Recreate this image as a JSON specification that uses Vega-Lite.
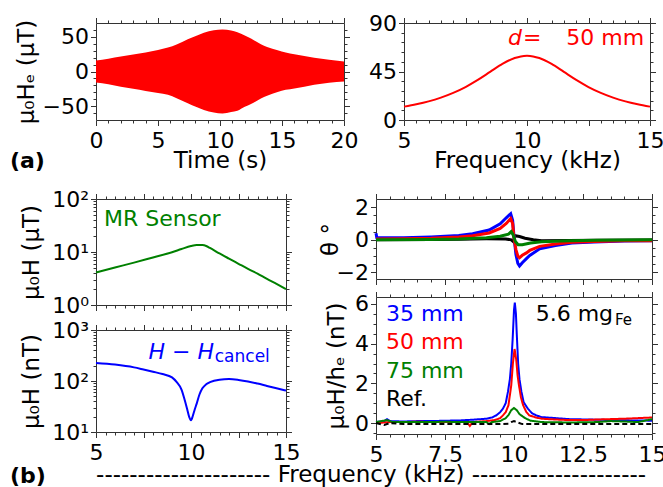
{
  "$schema": "https://vega.github.io/schema/vega-lite/v6.json",
  "padding": {"left": 9, "top": 11, "right": 0, "bottom": 0},
  "background": "white",
  "config": {
    "font": "DejaVu Sans",
    "view": {"stroke": "#333", "strokeWidth": 1},
    "axis": {"labelFont": "DejaVu Sans", "titleFont": "DejaVu Sans", "labelFontSize": 22, "titleFontSize": 23, "titleFontWeight": "normal", "labelColor": "#000", "titleColor": "#000", "grid": false, "domain": false, "tickColor": "#333", "tickWidth": 1, "tickSize": 5.5, "labelFlush": false, "labelOverlap": false, "labelBound": false},
    "axisX": {"labelPadding": 5},
    "axisY": {"labelPadding": 2},
    "text": {"font": "DejaVu Sans", "fontSize": 22}
  },
  "datasets": {
    "env": [
      {"t": 0, "hi": 16, "lo": -15.9}, {"t": 1, "hi": 18.5, "lo": -18.5}, {"t": 2, "hi": 21.5, "lo": -22}, {"t": 3, "hi": 24.5, "lo": -25}, {"t": 4, "hi": 27.5, "lo": -28}, {"t": 5, "hi": 31, "lo": -31}, {"t": 5.8, "hi": 34.6, "lo": -33.7}, {"t": 6.5, "hi": 39, "lo": -38.5}, {"t": 7.4, "hi": 46.6, "lo": -45.7}, {"t": 8, "hi": 51, "lo": -50.5}, {"t": 8.7, "hi": 56, "lo": -55.5}, {"t": 9.5, "hi": 59.5, "lo": -59.3}, {"t": 10.2, "hi": 60.5, "lo": -60.6}, {"t": 10.9, "hi": 59, "lo": -58.5}, {"t": 11.4, "hi": 56.5, "lo": -56.7}, {"t": 12, "hi": 52, "lo": -51}, {"t": 12.5, "hi": 47.5, "lo": -47}, {"t": 13.3, "hi": 39.4, "lo": -39}, {"t": 13.8, "hi": 35.5, "lo": -35}, {"t": 14.65, "hi": 30.8, "lo": -29.5}, {"t": 15.3, "hi": 27.5, "lo": -26.5}, {"t": 16, "hi": 25, "lo": -24.5}, {"t": 17.6, "hi": 20, "lo": -19}, {"t": 20, "hi": 14.4, "lo": -14.4}
    ],
    "resp": [
      {"f": 5, "v": 12.4}, {"f": 5.5, "v": 14.6}, {"f": 6, "v": 17.3}, {"f": 6.5, "v": 20.8}, {"f": 7, "v": 25.2}, {"f": 7.5, "v": 30.6}, {"f": 8, "v": 37.2}, {"f": 8.5, "v": 44.6}, {"f": 9, "v": 52.0}, {"f": 9.5, "v": 57.5}, {"f": 9.75, "v": 59}, {"f": 10, "v": 59.5}, {"f": 10.25, "v": 59}, {"f": 10.5, "v": 57.5}, {"f": 11, "v": 52.0}, {"f": 11.5, "v": 44.6}, {"f": 12, "v": 37.2}, {"f": 12.5, "v": 30.6}, {"f": 13, "v": 25.2}, {"f": 13.5, "v": 20.8}, {"f": 14, "v": 17.3}, {"f": 14.5, "v": 14.6}, {"f": 15, "v": 12.4}
    ],
    "mr": [
      {"f": 5, "v": 4.1}, {"f": 6, "v": 5.1}, {"f": 7, "v": 6.3}, {"f": 8, "v": 7.9}, {"f": 9, "v": 9.9}, {"f": 9.5, "v": 11.4}, {"f": 10, "v": 13.0}, {"f": 10.3, "v": 13.6}, {"f": 10.6, "v": 13.5}, {"f": 10.8, "v": 13.0}, {"f": 11, "v": 11.9}, {"f": 11.5, "v": 9.4}, {"f": 12, "v": 7.5}, {"f": 12.5, "v": 6.0}, {"f": 13, "v": 4.8}, {"f": 13.5, "v": 3.9}, {"f": 14, "v": 3.1}, {"f": 14.5, "v": 2.5}, {"f": 15, "v": 2.0}
    ],
    "canc": [
      {"f": 5, "v": 226}, {"f": 6, "v": 210}, {"f": 7, "v": 185}, {"f": 7.5, "v": 168}, {"f": 8, "v": 152}, {"f": 8.5, "v": 137}, {"f": 9, "v": 118}, {"f": 9.25, "v": 95}, {"f": 9.5, "v": 68}, {"f": 9.65, "v": 45}, {"f": 9.8, "v": 28}, {"f": 9.9, "v": 20}, {"f": 10.0, "v": 17}, {"f": 10.1, "v": 21}, {"f": 10.2, "v": 28}, {"f": 10.3, "v": 36}, {"f": 10.45, "v": 55}, {"f": 10.6, "v": 72}, {"f": 10.8, "v": 86}, {"f": 11, "v": 95}, {"f": 11.5, "v": 106}, {"f": 12, "v": 109}, {"f": 12.5, "v": 105}, {"f": 13, "v": 98}, {"f": 13.5, "v": 89}, {"f": 14, "v": 80}, {"f": 14.5, "v": 72}, {"f": 15, "v": 65}
    ],
    "theta": [
      {"s": "Ref.", "f": 5, "v": 0.0}, {"s": "Ref.", "f": 7, "v": 0.02}, {"s": "Ref.", "f": 8, "v": 0.04}, {"s": "Ref.", "f": 9, "v": 0.06}, {"s": "Ref.", "f": 9.7, "v": 0.05}, {"s": "Ref.", "f": 9.9, "v": 0.0}, {"s": "Ref.", "f": 9.97, "v": -0.1}, {"s": "Ref.", "f": 10.05, "v": 0.25}, {"s": "Ref.", "f": 10.2, "v": 0.2}, {"s": "Ref.", "f": 10.4, "v": 0.1}, {"s": "Ref.", "f": 10.7, "v": 0.0}, {"s": "Ref.", "f": 11, "v": -0.05}, {"s": "Ref.", "f": 12, "v": -0.04}, {"s": "Ref.", "f": 13, "v": -0.03}, {"s": "Ref.", "f": 15, "v": -0.01},
      {"s": "35 mm", "f": 5.0, "v": 0.4}, {"s": "35 mm", "f": 5.03, "v": 0.12}, {"s": "35 mm", "f": 6, "v": 0.12}, {"s": "35 mm", "f": 7, "v": 0.18}, {"s": "35 mm", "f": 8, "v": 0.27}, {"s": "35 mm", "f": 8.5, "v": 0.37}, {"s": "35 mm", "f": 9.1, "v": 0.6}, {"s": "35 mm", "f": 9.5, "v": 0.98}, {"s": "35 mm", "f": 9.72, "v": 1.35}, {"s": "35 mm", "f": 9.88, "v": 1.6}, {"s": "35 mm", "f": 9.95, "v": 1.2}, {"s": "35 mm", "f": 10.0, "v": 0.2}, {"s": "35 mm", "f": 10.07, "v": -0.9}, {"s": "35 mm", "f": 10.14, "v": -1.45}, {"s": "35 mm", "f": 10.2, "v": -1.6}, {"s": "35 mm", "f": 10.3, "v": -1.4}, {"s": "35 mm", "f": 10.45, "v": -1.15}, {"s": "35 mm", "f": 10.57, "v": -0.96}, {"s": "35 mm", "f": 10.93, "v": -0.55}, {"s": "35 mm", "f": 11.5, "v": -0.35}, {"s": "35 mm", "f": 12.1, "v": -0.2}, {"s": "35 mm", "f": 12.9, "v": -0.14}, {"s": "35 mm", "f": 14, "v": -0.08}, {"s": "35 mm", "f": 15, "v": -0.05},
      {"s": "50 mm", "f": 5, "v": 0.05}, {"s": "50 mm", "f": 6, "v": 0.07}, {"s": "50 mm", "f": 7, "v": 0.1}, {"s": "50 mm", "f": 8, "v": 0.18}, {"s": "50 mm", "f": 8.5, "v": 0.25}, {"s": "50 mm", "f": 9.1, "v": 0.42}, {"s": "50 mm", "f": 9.5, "v": 0.7}, {"s": "50 mm", "f": 9.72, "v": 1.0}, {"s": "50 mm", "f": 9.88, "v": 1.3}, {"s": "50 mm", "f": 9.95, "v": 1.0}, {"s": "50 mm", "f": 10.0, "v": 0.1}, {"s": "50 mm", "f": 10.07, "v": -0.6}, {"s": "50 mm", "f": 10.14, "v": -1.0}, {"s": "50 mm", "f": 10.2, "v": -1.1}, {"s": "50 mm", "f": 10.3, "v": -0.95}, {"s": "50 mm", "f": 10.45, "v": -0.8}, {"s": "50 mm", "f": 10.57, "v": -0.65}, {"s": "50 mm", "f": 10.93, "v": -0.4}, {"s": "50 mm", "f": 11.5, "v": -0.25}, {"s": "50 mm", "f": 12.1, "v": -0.15}, {"s": "50 mm", "f": 12.9, "v": -0.1}, {"s": "50 mm", "f": 14, "v": -0.06}, {"s": "50 mm", "f": 15, "v": -0.05},
      {"s": "75 mm", "f": 5, "v": 0.0}, {"s": "75 mm", "f": 7, "v": 0.02}, {"s": "75 mm", "f": 8, "v": 0.05}, {"s": "75 mm", "f": 9, "v": 0.12}, {"s": "75 mm", "f": 9.5, "v": 0.22}, {"s": "75 mm", "f": 9.8, "v": 0.35}, {"s": "75 mm", "f": 9.9, "v": 0.5}, {"s": "75 mm", "f": 9.97, "v": 0.3}, {"s": "75 mm", "f": 10.05, "v": -0.1}, {"s": "75 mm", "f": 10.15, "v": -0.3}, {"s": "75 mm", "f": 10.3, "v": -0.3}, {"s": "75 mm", "f": 10.6, "v": -0.2}, {"s": "75 mm", "f": 11, "v": -0.12}, {"s": "75 mm", "f": 12, "v": -0.05}, {"s": "75 mm", "f": 13, "v": -0.03}, {"s": "75 mm", "f": 15, "v": 0.0}
    ],
    "sig": [
      {"s": "35 mm", "f": 5.0, "v": 0.05}, {"s": "35 mm", "f": 5.3, "v": 0.1}, {"s": "35 mm", "f": 5.4, "v": 0.2}, {"s": "35 mm", "f": 5.5, "v": 0.1}, {"s": "35 mm", "f": 6, "v": 0.08}, {"s": "35 mm", "f": 6.5, "v": 0.1}, {"s": "35 mm", "f": 7, "v": 0.1}, {"s": "35 mm", "f": 7.5, "v": 0.12}, {"s": "35 mm", "f": 8, "v": 0.13}, {"s": "35 mm", "f": 8.5, "v": 0.17}, {"s": "35 mm", "f": 9.0, "v": 0.22}, {"s": "35 mm", "f": 9.2, "v": 0.28}, {"s": "35 mm", "f": 9.36, "v": 0.39}, {"s": "35 mm", "f": 9.5, "v": 0.55}, {"s": "35 mm", "f": 9.6, "v": 0.73}, {"s": "35 mm", "f": 9.7, "v": 1.0}, {"s": "35 mm", "f": 9.78, "v": 1.57}, {"s": "35 mm", "f": 9.85, "v": 2.2}, {"s": "35 mm", "f": 9.9, "v": 3.0}, {"s": "35 mm", "f": 9.95, "v": 4.2}, {"s": "35 mm", "f": 10.0, "v": 5.7}, {"s": "35 mm", "f": 10.03, "v": 6.07}, {"s": "35 mm", "f": 10.07, "v": 5.5}, {"s": "35 mm", "f": 10.1, "v": 4.5}, {"s": "35 mm", "f": 10.15, "v": 3.0}, {"s": "35 mm", "f": 10.2, "v": 2.2}, {"s": "35 mm", "f": 10.27, "v": 1.57}, {"s": "35 mm", "f": 10.35, "v": 1.05}, {"s": "35 mm", "f": 10.5, "v": 0.73}, {"s": "35 mm", "f": 10.65, "v": 0.5}, {"s": "35 mm", "f": 10.8, "v": 0.39}, {"s": "35 mm", "f": 11, "v": 0.3}, {"s": "35 mm", "f": 11.5, "v": 0.25}, {"s": "35 mm", "f": 12, "v": 0.2}, {"s": "35 mm", "f": 13, "v": 0.17}, {"s": "35 mm", "f": 14, "v": 0.14}, {"s": "35 mm", "f": 15, "v": 0.12},
      {"s": "50 mm", "f": 5, "v": 0.0}, {"s": "50 mm", "f": 5.5, "v": 0.05}, {"s": "50 mm", "f": 6, "v": 0.05}, {"s": "50 mm", "f": 6.5, "v": 0.07}, {"s": "50 mm", "f": 7, "v": 0.05}, {"s": "50 mm", "f": 7.5, "v": 0.05}, {"s": "50 mm", "f": 8, "v": 0.05}, {"s": "50 mm", "f": 8.3, "v": 0.05}, {"s": "50 mm", "f": 8.4, "v": -0.15}, {"s": "50 mm", "f": 8.5, "v": 0.05}, {"s": "50 mm", "f": 9, "v": 0.1}, {"s": "50 mm", "f": 9.3, "v": 0.15}, {"s": "50 mm", "f": 9.5, "v": 0.25}, {"s": "50 mm", "f": 9.6, "v": 0.39}, {"s": "50 mm", "f": 9.7, "v": 0.55}, {"s": "50 mm", "f": 9.8, "v": 0.9}, {"s": "50 mm", "f": 9.9, "v": 1.9}, {"s": "50 mm", "f": 9.96, "v": 3.0}, {"s": "50 mm", "f": 10.02, "v": 3.73}, {"s": "50 mm", "f": 10.08, "v": 3.2}, {"s": "50 mm", "f": 10.13, "v": 2.4}, {"s": "50 mm", "f": 10.18, "v": 1.9}, {"s": "50 mm", "f": 10.25, "v": 1.3}, {"s": "50 mm", "f": 10.33, "v": 0.9}, {"s": "50 mm", "f": 10.45, "v": 0.55}, {"s": "50 mm", "f": 10.55, "v": 0.39}, {"s": "50 mm", "f": 10.8, "v": 0.28}, {"s": "50 mm", "f": 11, "v": 0.22}, {"s": "50 mm", "f": 11.5, "v": 0.18}, {"s": "50 mm", "f": 12, "v": 0.15}, {"s": "50 mm", "f": 12.5, "v": 0.15}, {"s": "50 mm", "f": 13, "v": 0.18}, {"s": "50 mm", "f": 13.5, "v": 0.2}, {"s": "50 mm", "f": 14, "v": 0.22}, {"s": "50 mm", "f": 14.5, "v": 0.25}, {"s": "50 mm", "f": 15, "v": 0.28},
      {"s": "75 mm", "f": 5, "v": 0.05}, {"s": "75 mm", "f": 5.4, "v": 0.15}, {"s": "75 mm", "f": 5.6, "v": 0.05}, {"s": "75 mm", "f": 6, "v": 0.05}, {"s": "75 mm", "f": 6.5, "v": 0.06}, {"s": "75 mm", "f": 7, "v": 0.05}, {"s": "75 mm", "f": 7.5, "v": 0.07}, {"s": "75 mm", "f": 8, "v": 0.05}, {"s": "75 mm", "f": 8.5, "v": 0.05}, {"s": "75 mm", "f": 9, "v": 0.05}, {"s": "75 mm", "f": 9.1, "v": -0.05}, {"s": "75 mm", "f": 9.2, "v": 0.05}, {"s": "75 mm", "f": 9.5, "v": 0.1}, {"s": "75 mm", "f": 9.7, "v": 0.25}, {"s": "75 mm", "f": 9.8, "v": 0.4}, {"s": "75 mm", "f": 9.9, "v": 0.65}, {"s": "75 mm", "f": 10.0, "v": 0.76}, {"s": "75 mm", "f": 10.1, "v": 0.65}, {"s": "75 mm", "f": 10.2, "v": 0.45}, {"s": "75 mm", "f": 10.3, "v": 0.35}, {"s": "75 mm", "f": 10.4, "v": 0.25}, {"s": "75 mm", "f": 10.6, "v": 0.12}, {"s": "75 mm", "f": 11, "v": 0.05}, {"s": "75 mm", "f": 12, "v": 0.03}, {"s": "75 mm", "f": 13, "v": 0.05}, {"s": "75 mm", "f": 13.5, "v": 0.1}, {"s": "75 mm", "f": 14, "v": 0.08}, {"s": "75 mm", "f": 14.5, "v": 0.05}, {"s": "75 mm", "f": 15, "v": 0.2},
      {"s": "Ref.", "f": 5, "v": 0.0}, {"s": "Ref.", "f": 5.3, "v": -0.1}, {"s": "Ref.", "f": 5.5, "v": 0.0}, {"s": "Ref.", "f": 6, "v": -0.05}, {"s": "Ref.", "f": 7, "v": -0.05}, {"s": "Ref.", "f": 8, "v": -0.05}, {"s": "Ref.", "f": 9, "v": -0.05}, {"s": "Ref.", "f": 9.5, "v": -0.05}, {"s": "Ref.", "f": 9.8, "v": -0.03}, {"s": "Ref.", "f": 9.9, "v": 0.05}, {"s": "Ref.", "f": 10.0, "v": 0.1}, {"s": "Ref.", "f": 10.1, "v": 0.05}, {"s": "Ref.", "f": 10.3, "v": -0.05}, {"s": "Ref.", "f": 11, "v": -0.05}, {"s": "Ref.", "f": 12, "v": -0.05}, {"s": "Ref.", "f": 13, "v": -0.05}, {"s": "Ref.", "f": 14, "v": -0.05}, {"s": "Ref.", "f": 15, "v": -0.05}
    ]
  },
  "spacing": 14,
  "vconcat": [
    {
      "bounds": "flush",
      "spacing": 60,
      "hconcat": [
        {
          "width": 248, "height": 97,
          "resolve": {"axis": {"x": "independent", "y": "independent"}},
          "layer": [
            {"data": {"name": "env"}, "mark": {"type": "area", "color": "#ff0000", "interpolate": "monotone"},
             "encoding": {
               "x": {"field": "t", "type": "quantitative", "scale": {"domain": [0, 20], "nice": false, "zero": false}, "axis": {"orient": "bottom", "title": "Time (s)", "values": [0, 5, 10, 15, 20], "titlePadding": -2}},
               "y": {"field": "hi", "type": "quantitative", "scale": {"domain": [-70, 70], "nice": false, "zero": false}, "axis": {"orient": "left", "title": "μ₀Hₑ (μT)", "values": [-50, 0, 50], "titleX": -58, "labelExpr": "datum.value < 0 ? '−' + abs(datum.value) : '' + datum.value"}},
               "y2": {"field": "lo"}}},
            {"data": {"name": "env"}, "mark": {"type": "point", "opacity": 0},
             "encoding": {
               "x": {"field": "t", "type": "quantitative", "scale": {"domain": [0, 20], "nice": false, "zero": false}, "axis": {"orient": "top", "title": null, "labels": false, "values": [0, 5, 10, 15, 20]}},
               "y": {"field": "hi", "type": "quantitative", "scale": {"domain": [-70, 70], "nice": false, "zero": false}, "axis": {"orient": "right", "title": null, "labels": false, "values": [-50, 0, 50]}}}},
            {"data": {"name": "env"}, "mark": {"type": "point", "opacity": 0},
             "encoding": {
               "x": {"field": "t", "type": "quantitative", "scale": {"domain": [0, 20], "nice": false, "zero": false}, "axis": {"orient": "bottom", "title": null, "labels": false, "tickSize": 3, "values": [1, 2, 3, 4, 6, 7, 8, 9, 11, 12, 13, 14, 16, 17, 18, 19]}},
               "y": {"field": "hi", "type": "quantitative", "scale": {"domain": [-70, 70], "nice": false, "zero": false}, "axis": {"orient": "left", "title": null, "labels": false, "tickSize": 3, "values": [-60, -40, -30, -20, -10, 10, 20, 30, 40, 60]}}}},
            {"data": {"name": "env"}, "mark": {"type": "point", "opacity": 0},
             "encoding": {
               "x": {"field": "t", "type": "quantitative", "scale": {"domain": [0, 20], "nice": false, "zero": false}, "axis": {"orient": "top", "title": null, "labels": false, "tickSize": 3, "values": [1, 2, 3, 4, 6, 7, 8, 9, 11, 12, 13, 14, 16, 17, 18, 19]}},
               "y": {"field": "hi", "type": "quantitative", "scale": {"domain": [-70, 70], "nice": false, "zero": false}, "axis": {"orient": "right", "title": null, "labels": false, "tickSize": 3, "values": [-60, -40, -30, -20, -10, 10, 20, 30, 40, 60]}}}},
            {"data": {"values": [{}]}, "mark": {"type": "text", "text": "(a)", "align": "left", "baseline": "middle", "fontSize": 22, "fontWeight": "bold", "color": "#000"},
             "encoding": {
               "x": {"datum": -6.94, "type": "quantitative", "scale": {"domain": [0, 20], "nice": false, "zero": false}, "axis": null},
               "y": {"datum": -129, "type": "quantitative", "scale": {"domain": [-70, 70], "nice": false, "zero": false}, "axis": null}}}
          ]
        },
        {
          "width": 246, "height": 97,
          "resolve": {"axis": {"x": "independent", "y": "independent"}},
          "layer": [
            {"data": {"name": "resp"}, "mark": {"type": "line", "color": "#ff0000", "strokeWidth": 2, "interpolate": "monotone"},
             "encoding": {
               "x": {"field": "f", "type": "quantitative", "scale": {"domain": [5, 15], "nice": false, "zero": false}, "axis": {"orient": "bottom", "title": "Frequency (kHz)", "values": [5, 7.5, 10, 12.5, 15], "labelExpr": "datum.value % 5 == 0 ? '' + datum.value : ''", "titlePadding": -2}},
               "y": {"field": "v", "type": "quantitative", "scale": {"domain": [0, 90], "nice": false, "zero": false}, "axis": {"orient": "left", "title": null, "values": [0, 45, 90], "labelExpr": "'' + datum.value"}}}},
            {"data": {"name": "resp"}, "mark": {"type": "point", "opacity": 0},
             "encoding": {
               "x": {"field": "f", "type": "quantitative", "scale": {"domain": [5, 15], "nice": false, "zero": false}, "axis": {"orient": "top", "title": null, "labels": false, "values": [5, 7.5, 10, 12.5, 15]}},
               "y": {"field": "v", "type": "quantitative", "scale": {"domain": [0, 90], "nice": false, "zero": false}, "axis": {"orient": "right", "title": null, "labels": false, "values": [0, 45, 90]}}}},
            {"data": {"name": "resp"}, "mark": {"type": "point", "opacity": 0},
             "encoding": {
               "x": {"field": "f", "type": "quantitative", "scale": {"domain": [5, 15], "nice": false, "zero": false}, "axis": {"orient": "bottom", "title": null, "labels": false, "tickSize": 3, "values": [5.5, 6, 6.5, 7, 8, 8.5, 9, 9.5, 10.5, 11, 11.5, 12, 13, 13.5, 14, 14.5]}},
               "y": {"field": "v", "type": "quantitative", "scale": {"domain": [0, 90], "nice": false, "zero": false}, "axis": {"orient": "left", "title": null, "labels": false, "tickSize": 3, "values": [9, 18, 27, 36, 54, 63, 72, 81]}}}},
            {"data": {"name": "resp"}, "mark": {"type": "point", "opacity": 0},
             "encoding": {
               "x": {"field": "f", "type": "quantitative", "scale": {"domain": [5, 15], "nice": false, "zero": false}, "axis": {"orient": "top", "title": null, "labels": false, "tickSize": 3, "values": [5.5, 6, 6.5, 7, 8, 8.5, 9, 9.5, 10.5, 11, 11.5, 12, 13, 13.5, 14, 14.5]}},
               "y": {"field": "v", "type": "quantitative", "scale": {"domain": [0, 90], "nice": false, "zero": false}, "axis": {"orient": "right", "title": null, "labels": false, "tickSize": 3, "values": [9, 18, 27, 36, 54, 63, 72, 81]}}}},
            {"data": {"values": [{}]}, "mark": {"type": "text", "text": "d", "align": "right", "baseline": "middle", "fontSize": 22, "fontStyle": "italic", "color": "#ff0000"},
             "encoding": {
               "x": {"datum": 9.8, "type": "quantitative", "scale": {"domain": [5, 15], "nice": false, "zero": false}, "axis": null},
               "y": {"datum": 76, "type": "quantitative", "scale": {"domain": [0, 90], "nice": false, "zero": false}, "axis": null}}},
            {"data": {"values": [{}]}, "mark": {"type": "text", "text": "=", "align": "left", "baseline": "middle", "fontSize": 22, "color": "#ff0000"},
             "encoding": {
               "x": {"datum": 9.84, "type": "quantitative", "scale": {"domain": [5, 15], "nice": false, "zero": false}, "axis": null},
               "y": {"datum": 76, "type": "quantitative", "scale": {"domain": [0, 90], "nice": false, "zero": false}, "axis": null}}},
            {"data": {"values": [{}]}, "mark": {"type": "text", "text": "50 mm", "align": "right", "baseline": "middle", "fontSize": 22, "color": "#ff0000"},
             "encoding": {
               "x": {"datum": 14.76, "type": "quantitative", "scale": {"domain": [5, 15], "nice": false, "zero": false}, "axis": null},
               "y": {"datum": 76, "type": "quantitative", "scale": {"domain": [0, 90], "nice": false, "zero": false}, "axis": null}}}
          ]
        }
      ]
    },
    {
      "spacing": -206,
      "hconcat": [
        {
          "bounds": "flush",
          "spacing": 25,
          "vconcat": [
            {
              "width": 190, "height": 106,
              "resolve": {"axis": {"x": "independent", "y": "independent"}},
              "layer": [
                {"data": {"name": "mr"}, "mark": {"type": "line", "color": "#008000", "strokeWidth": 2, "interpolate": "monotone"},
                 "encoding": {
                   "x": {"field": "f", "type": "quantitative", "scale": {"domain": [5, 15], "nice": false, "zero": false}, "axis": {"orient": "bottom", "title": null, "labels": false, "values": [5, 7.5, 10, 12.5, 15]}},
                   "y": {"field": "v", "type": "quantitative", "scale": {"type": "log", "domain": [1, 100], "nice": false}, "axis": {"orient": "left", "title": "μ₀H (μT)", "titleX": -53, "values": [1, 10, 100], "labelExpr": "datum.value == 1 ? '10⁰' : datum.value == 10 ? '10¹' : '10²'"}}}},
                {"data": {"name": "mr"}, "mark": {"type": "point", "opacity": 0},
                 "encoding": {
                   "x": {"field": "f", "type": "quantitative", "scale": {"domain": [5, 15], "nice": false, "zero": false}, "axis": {"orient": "top", "title": null, "labels": false, "values": [5, 7.5, 10, 12.5, 15]}},
                   "y": {"field": "v", "type": "quantitative", "scale": {"type": "log", "domain": [1, 100], "nice": false}, "axis": {"orient": "right", "title": null, "labels": false, "values": [1, 10, 100]}}}},
                {"data": {"name": "mr"}, "mark": {"type": "point", "opacity": 0},
                 "encoding": {
                   "x": {"field": "f", "type": "quantitative", "scale": {"domain": [5, 15], "nice": false, "zero": false}, "axis": {"orient": "bottom", "title": null, "labels": false, "tickSize": 3, "values": [5.5, 6, 6.5, 7, 8, 8.5, 9, 9.5, 10.5, 11, 11.5, 12, 13, 13.5, 14, 14.5]}},
                   "y": {"field": "v", "type": "quantitative", "scale": {"type": "log", "domain": [1, 100], "nice": false}, "axis": {"orient": "left", "title": null, "labels": false, "tickSize": 3, "values": [2, 3, 4, 5, 6, 7, 8, 9, 20, 30, 40, 50, 60, 70, 80, 90]}}}},
                {"data": {"name": "mr"}, "mark": {"type": "point", "opacity": 0},
                 "encoding": {
                   "x": {"field": "f", "type": "quantitative", "scale": {"domain": [5, 15], "nice": false, "zero": false}, "axis": {"orient": "top", "title": null, "labels": false, "tickSize": 3, "values": [5.5, 6, 6.5, 7, 8, 8.5, 9, 9.5, 10.5, 11, 11.5, 12, 13, 13.5, 14, 14.5]}},
                   "y": {"field": "v", "type": "quantitative", "scale": {"type": "log", "domain": [1, 100], "nice": false}, "axis": {"orient": "right", "title": null, "labels": false, "tickSize": 3, "values": [2, 3, 4, 5, 6, 7, 8, 9, 20, 30, 40, 50, 60, 70, 80, 90]}}}},
                {"data": {"values": [{}]}, "mark": {"type": "text", "text": "MR Sensor", "align": "left", "baseline": "middle", "fontSize": 22, "color": "#008000"},
                 "encoding": {
                   "x": {"datum": 5.42, "type": "quantitative", "scale": {"domain": [5, 15], "nice": false, "zero": false}, "axis": null},
                   "y": {"datum": 42, "type": "quantitative", "scale": {"type": "log", "domain": [1, 100], "nice": false}, "axis": null}}}
              ]
            },
            {
              "width": 190, "height": 102,
              "resolve": {"axis": {"x": "independent", "y": "independent"}},
              "layer": [
                {"data": {"name": "canc"}, "mark": {"type": "line", "color": "#0000ff", "strokeWidth": 2, "interpolate": "monotone"},
                 "encoding": {
                   "x": {"field": "f", "type": "quantitative", "scale": {"domain": [5, 15], "nice": false, "zero": false}, "axis": {"orient": "bottom", "title": null, "values": [5, 7.5, 10, 12.5, 15], "labelExpr": "datum.value % 5 == 0 ? '' + datum.value : ''"}},
                   "y": {"field": "v", "type": "quantitative", "scale": {"type": "log", "domain": [10, 1000], "nice": false}, "axis": {"orient": "left", "title": "μ₀H (nT)", "titleX": -53, "values": [10, 100, 1000], "labelExpr": "datum.value == 10 ? '10¹' : datum.value == 100 ? '10²' : '10³'"}}}},
                {"data": {"name": "canc"}, "mark": {"type": "point", "opacity": 0},
                 "encoding": {
                   "x": {"field": "f", "type": "quantitative", "scale": {"domain": [5, 15], "nice": false, "zero": false}, "axis": {"orient": "top", "title": null, "labels": false, "values": [5, 7.5, 10, 12.5, 15]}},
                   "y": {"field": "v", "type": "quantitative", "scale": {"type": "log", "domain": [10, 1000], "nice": false}, "axis": {"orient": "right", "title": null, "labels": false, "values": [10, 100, 1000]}}}},
                {"data": {"name": "canc"}, "mark": {"type": "point", "opacity": 0},
                 "encoding": {
                   "x": {"field": "f", "type": "quantitative", "scale": {"domain": [5, 15], "nice": false, "zero": false}, "axis": {"orient": "bottom", "title": null, "labels": false, "tickSize": 3, "values": [5.5, 6, 6.5, 7, 8, 8.5, 9, 9.5, 10.5, 11, 11.5, 12, 13, 13.5, 14, 14.5]}},
                   "y": {"field": "v", "type": "quantitative", "scale": {"type": "log", "domain": [10, 1000], "nice": false}, "axis": {"orient": "left", "title": null, "labels": false, "tickSize": 3, "values": [20, 30, 40, 50, 60, 70, 80, 90, 200, 300, 400, 500, 600, 700, 800, 900]}}}},
                {"data": {"name": "canc"}, "mark": {"type": "point", "opacity": 0},
                 "encoding": {
                   "x": {"field": "f", "type": "quantitative", "scale": {"domain": [5, 15], "nice": false, "zero": false}, "axis": {"orient": "top", "title": null, "labels": false, "tickSize": 3, "values": [5.5, 6, 6.5, 7, 8, 8.5, 9, 9.5, 10.5, 11, 11.5, 12, 13, 13.5, 14, 14.5]}},
                   "y": {"field": "v", "type": "quantitative", "scale": {"type": "log", "domain": [10, 1000], "nice": false}, "axis": {"orient": "right", "title": null, "labels": false, "tickSize": 3, "values": [20, 30, 40, 50, 60, 70, 80, 90, 200, 300, 400, 500, 600, 700, 800, 900]}}}},
                {"data": {"values": [{}]}, "mark": {"type": "text", "text": "H − H", "align": "right", "baseline": "middle", "fontSize": 22, "fontStyle": "italic", "color": "#0000ff"},
                 "encoding": {
                   "x": {"datum": 11.21, "type": "quantitative", "scale": {"domain": [5, 15], "nice": false, "zero": false}, "axis": null},
                   "y": {"datum": 366, "type": "quantitative", "scale": {"type": "log", "domain": [10, 1000], "nice": false}, "axis": null}}},
                {"data": {"values": [{}]}, "mark": {"type": "text", "text": "cancel", "align": "left", "baseline": "middle", "fontSize": 17, "color": "#0000ff"},
                 "encoding": {
                   "x": {"datum": 11.25, "type": "quantitative", "scale": {"domain": [5, 15], "nice": false, "zero": false}, "axis": null},
                   "y": {"datum": 292, "type": "quantitative", "scale": {"type": "log", "domain": [10, 1000], "nice": false}, "axis": null}}},
                {"data": {"values": [{}]}, "mark": {"type": "text", "text": "(b)", "align": "left", "baseline": "middle", "fontSize": 22, "fontWeight": "bold", "color": "#000000"},
                 "encoding": {
                   "x": {"datum": 0.4737, "type": "quantitative", "scale": {"domain": [5, 15], "nice": false, "zero": false}, "axis": null},
                   "y": {"datum": 1.37, "type": "quantitative", "scale": {"type": "log", "domain": [10, 1000], "nice": false}, "axis": null}}}
              ]
            }
          ]
        },
        {
          "bounds": "flush",
          "spacing": 18,
          "vconcat": [
            {
              "width": 276, "height": 80,
              "resolve": {"axis": {"x": "independent", "y": "independent"}},
              "layer": [
                {"data": {"name": "theta"}, "mark": {"type": "line", "strokeWidth": 3},
                 "encoding": {
                   "x": {"field": "f", "type": "quantitative", "scale": {"domain": [5, 15], "nice": false, "zero": false}, "axis": {"orient": "bottom", "title": null, "labels": false, "values": [5, 7.5, 10, 12.5, 15]}},
                   "y": {"field": "v", "type": "quantitative", "scale": {"domain": [-2.4, 2.5], "nice": false, "zero": false}, "axis": {"orient": "left", "title": "θ °", "titleX": -34, "values": [-2, 0, 2], "labelExpr": "datum.value < 0 ? '−' + abs(datum.value) : '' + datum.value"}},
                   "color": {"field": "s", "type": "nominal", "scale": {"domain": ["35 mm", "50 mm", "75 mm", "Ref."], "range": ["#0000ff", "#ff0000", "#008000", "#000000"]}, "legend": null}}},
                {"data": {"name": "theta"}, "mark": {"type": "point", "opacity": 0},
                 "encoding": {
                   "x": {"field": "f", "type": "quantitative", "scale": {"domain": [5, 15], "nice": false, "zero": false}, "axis": {"orient": "top", "title": null, "labels": false, "values": [5, 7.5, 10, 12.5, 15]}},
                   "y": {"field": "v", "type": "quantitative", "scale": {"domain": [-2.4, 2.5], "nice": false, "zero": false}, "axis": {"orient": "right", "title": null, "labels": false, "values": [-2, 0, 2]}}}},
                {"data": {"name": "theta"}, "mark": {"type": "point", "opacity": 0},
                 "encoding": {
                   "x": {"field": "f", "type": "quantitative", "scale": {"domain": [5, 15], "nice": false, "zero": false}, "axis": {"orient": "bottom", "title": null, "labels": false, "tickSize": 3, "values": [5.5, 6, 6.5, 7, 8, 8.5, 9, 9.5, 10.5, 11, 11.5, 12, 13, 13.5, 14, 14.5]}},
                   "y": {"field": "v", "type": "quantitative", "scale": {"domain": [-2.4, 2.5], "nice": false, "zero": false}, "axis": {"orient": "left", "title": null, "labels": false, "tickSize": 3, "values": [-1.5, -1, -0.5, 0.5, 1, 1.5]}}}},
                {"data": {"name": "theta"}, "mark": {"type": "point", "opacity": 0},
                 "encoding": {
                   "x": {"field": "f", "type": "quantitative", "scale": {"domain": [5, 15], "nice": false, "zero": false}, "axis": {"orient": "top", "title": null, "labels": false, "tickSize": 3, "values": [5.5, 6, 6.5, 7, 8, 8.5, 9, 9.5, 10.5, 11, 11.5, 12, 13, 13.5, 14, 14.5]}},
                   "y": {"field": "v", "type": "quantitative", "scale": {"domain": [-2.4, 2.5], "nice": false, "zero": false}, "axis": {"orient": "right", "title": null, "labels": false, "tickSize": 3, "values": [-1.5, -1, -0.5, 0.5, 1, 1.5]}}}}
              ]
            },
            {
              "width": 276, "height": 137,
              "resolve": {"axis": {"x": "independent", "y": "independent"}},
              "layer": [
                {"data": {"name": "sig"}, "mark": {"type": "line", "strokeWidth": 2},
                 "encoding": {
                   "x": {"field": "f", "type": "quantitative", "scale": {"domain": [5, 15], "nice": false, "zero": false}, "axis": {"orient": "bottom", "title": null, "values": [5, 7.5, 10, 12.5, 15], "labelExpr": "'' + datum.value"}},
                   "y": {"field": "v", "type": "quantitative", "scale": {"domain": [-0.55, 6.35], "nice": false, "zero": false}, "axis": {"orient": "left", "title": "μ₀H/hₑ (nT)", "titleX": -28, "values": [0, 2, 4, 6], "labelExpr": "'' + datum.value"}},
                   "color": {"field": "s", "type": "nominal", "scale": {"domain": ["35 mm", "50 mm", "75 mm", "Ref."], "range": ["#0000ff", "#ff0000", "#008000", "#000000"]}, "legend": null},
                   "strokeDash": {"field": "s", "type": "nominal", "scale": {"domain": ["35 mm", "50 mm", "75 mm", "Ref."], "range": [[1, 0], [1, 0], [1, 0], [5, 3]]}, "legend": null}}},
                {"data": {"name": "sig"}, "mark": {"type": "point", "opacity": 0},
                 "encoding": {
                   "x": {"field": "f", "type": "quantitative", "scale": {"domain": [5, 15], "nice": false, "zero": false}, "axis": {"orient": "top", "title": null, "labels": false, "values": [5, 7.5, 10, 12.5, 15]}},
                   "y": {"field": "v", "type": "quantitative", "scale": {"domain": [-0.55, 6.35], "nice": false, "zero": false}, "axis": {"orient": "right", "title": null, "labels": false, "values": [0, 2, 4, 6]}}}},
                {"data": {"name": "sig"}, "mark": {"type": "point", "opacity": 0},
                 "encoding": {
                   "x": {"field": "f", "type": "quantitative", "scale": {"domain": [5, 15], "nice": false, "zero": false}, "axis": {"orient": "bottom", "title": null, "labels": false, "tickSize": 3, "values": [5.5, 6, 6.5, 7, 8, 8.5, 9, 9.5, 10.5, 11, 11.5, 12, 13, 13.5, 14, 14.5]}},
                   "y": {"field": "v", "type": "quantitative", "scale": {"domain": [-0.55, 6.35], "nice": false, "zero": false}, "axis": {"orient": "left", "title": null, "labels": false, "tickSize": 3, "values": [-0.5, 0.5, 1, 1.5, 2.5, 3, 3.5, 4.5, 5, 5.5]}}}},
                {"data": {"name": "sig"}, "mark": {"type": "point", "opacity": 0},
                 "encoding": {
                   "x": {"field": "f", "type": "quantitative", "scale": {"domain": [5, 15], "nice": false, "zero": false}, "axis": {"orient": "top", "title": null, "labels": false, "tickSize": 3, "values": [5.5, 6, 6.5, 7, 8, 8.5, 9, 9.5, 10.5, 11, 11.5, 12, 13, 13.5, 14, 14.5]}},
                   "y": {"field": "v", "type": "quantitative", "scale": {"domain": [-0.55, 6.35], "nice": false, "zero": false}, "axis": {"orient": "right", "title": null, "labels": false, "tickSize": 3, "values": [-0.5, 0.5, 1, 1.5, 2.5, 3, 3.5, 4.5, 5, 5.5]}}}},
                {"data": {"values": [{}]}, "mark": {"type": "text", "text": "35 mm", "align": "left", "baseline": "middle", "fontSize": 22, "color": "#0000ff"},
                 "encoding": {"x": {"datum": 5.36, "type": "quantitative", "scale": {"domain": [5, 15], "nice": false, "zero": false}, "axis": null}, "y": {"datum": 5.47, "type": "quantitative", "scale": {"domain": [-0.55, 6.35], "nice": false, "zero": false}, "axis": null}}},
                {"data": {"values": [{}]}, "mark": {"type": "text", "text": "50 mm", "align": "left", "baseline": "middle", "fontSize": 22, "color": "#ff0000"},
                 "encoding": {"x": {"datum": 5.36, "type": "quantitative", "scale": {"domain": [5, 15], "nice": false, "zero": false}, "axis": null}, "y": {"datum": 4.06, "type": "quantitative", "scale": {"domain": [-0.55, 6.35], "nice": false, "zero": false}, "axis": null}}},
                {"data": {"values": [{}]}, "mark": {"type": "text", "text": "75 mm", "align": "left", "baseline": "middle", "fontSize": 22, "color": "#008000"},
                 "encoding": {"x": {"datum": 5.36, "type": "quantitative", "scale": {"domain": [5, 15], "nice": false, "zero": false}, "axis": null}, "y": {"datum": 2.62, "type": "quantitative", "scale": {"domain": [-0.55, 6.35], "nice": false, "zero": false}, "axis": null}}},
                {"data": {"values": [{}]}, "mark": {"type": "text", "text": "Ref.", "align": "left", "baseline": "middle", "fontSize": 22, "color": "#000000"},
                 "encoding": {"x": {"datum": 5.36, "type": "quantitative", "scale": {"domain": [5, 15], "nice": false, "zero": false}, "axis": null}, "y": {"datum": 1.19, "type": "quantitative", "scale": {"domain": [-0.55, 6.35], "nice": false, "zero": false}, "axis": null}}},
                {"data": {"values": [{}]}, "mark": {"type": "text", "text": "5.6 mg", "align": "right", "baseline": "middle", "fontSize": 22, "color": "#000000"},
                 "encoding": {"x": {"datum": 13.59, "type": "quantitative", "scale": {"domain": [5, 15], "nice": false, "zero": false}, "axis": null}, "y": {"datum": 5.47, "type": "quantitative", "scale": {"domain": [-0.55, 6.35], "nice": false, "zero": false}, "axis": null}}},
                {"data": {"values": [{}]}, "mark": {"type": "text", "text": "Fe", "align": "left", "baseline": "middle", "fontSize": 15, "color": "#000000"},
                 "encoding": {"x": {"datum": 13.66, "type": "quantitative", "scale": {"domain": [5, 15], "nice": false, "zero": false}, "axis": null}, "y": {"datum": 5.19, "type": "quantitative", "scale": {"domain": [-0.55, 6.35], "nice": false, "zero": false}, "axis": null}}},
                {"data": {"values": [{}]}, "mark": {"type": "text", "text": "--------------------- Frequency (kHz) ---------------------", "align": "left", "baseline": "middle", "fontSize": 23, "color": "#000000"},
                 "encoding": {"x": {"datum": -5.1413, "type": "quantitative", "scale": {"domain": [5, 15], "nice": false, "zero": false}, "axis": null}, "y": {"datum": -2.62, "type": "quantitative", "scale": {"domain": [-0.55, 6.35], "nice": false, "zero": false}, "axis": null}}}
              ]
            }
          ]
        }
      ]
    }
  ]
}
